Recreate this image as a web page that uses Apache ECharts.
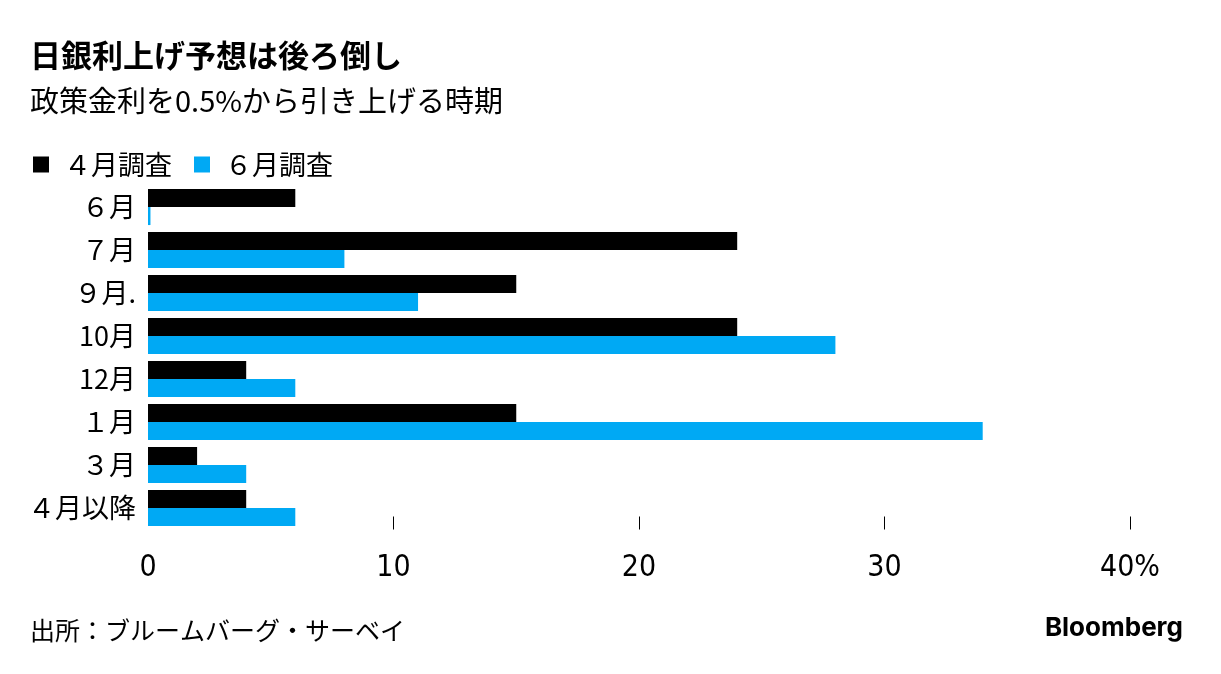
<!DOCTYPE html>
<html><head><meta charset="utf-8">
<script src="https://cdn.jsdelivr.net/npm/echarts@6/dist/echarts.min.js"></script>
<style>html,body{margin:0;padding:0;background:#fff}#c{width:1221px;height:674px}</style>
</head><body><div id="c"></div>
<script>
const categories = ['６月','７月','９月.','10月','12月','１月','３月','４月以降'];
const aprilSurvey = [6, 24, 15, 24, 4, 15, 2, 4];
const juneSurvey = [0.1, 8, 11, 28, 6, 34, 4, 6];
const xTicks = [10, 20, 30, 40];
const xLabels = [0, 10, 20, 30, 40];

const F = '"Noto Sans CJK JP", "Noto Sans", sans-serif';
const N = '"Liberation Sans Narrow", "DejaVu Sans Condensed", sans-serif';
const chart = echarts.init(document.getElementById('c'));
chart.setOption({
  animation: false,
  backgroundColor: '#fff',
  title: [
    {text: '日銀利上げ予想は後ろ倒し', left: 30, top: 40, padding: 0, textStyle: {fontFamily: F, fontSize: 31, fontWeight: 'bold', color: '#000'}},
    {text: '政策金利を0.5%から引き上げる時期', left: 30, top: 86, padding: 0, textStyle: {fontFamily: F, fontSize: 29, fontWeight: 'normal', color: '#000'}},
    {text: '出所：ブルームバーグ・サーベイ', left: 30, top: 618, padding: 0, textStyle: {fontFamily: F, fontSize: 25, fontWeight: 'normal', color: '#000'}},
    {text: 'Bloomberg', right: 38, top: 615, padding: 0, textStyle: {fontFamily: 'Inter, "Noto Sans", sans-serif', fontSize: 26, fontWeight: 'bold', color: '#000', letterSpacing: -0.5}}
  ],
  legend: {
    left: 28, top: 146, itemWidth: 16, itemHeight: 16, itemGap: 22, icon: 'rect',
    textStyle: {fontFamily: F, fontSize: 27, color: '#000', padding: [0, 0, 0, 10]},
    data: ['４月調査', '６月調査']
  },
  grid: {left: 148, right: 91, top: 185.5, height: 344, containLabel: false},
  xAxis: {
    type: 'value', min: 0, max: 40, interval: 10,
    axisLine: {show: false},
    splitLine: {show: false},
    axisTick: {show: true, inside: true, length: 13, lineStyle: {color: '#000', width: 1}, customValues: xTicks},
    axisLabel: {margin: 24, fontFamily: N, fontSize: 30, color: '#000', customValues: xLabels,
      formatter: v => v === 40 ? '40%' : String(v)}
  },
  yAxis: {
    type: 'category', data: categories, inverse: true,
    axisLine: {show: false}, axisTick: {show: false},
    axisLabel: {margin: 12, fontFamily: F, fontSize: 27, color: '#000'}
  },
  series: [
    {name: '４月調査', type: 'bar', data: aprilSurvey, itemStyle: {color: '#000'}, barGap: '0%', barCategoryGap: '16%'},
    {name: '６月調査', type: 'bar', data: juneSurvey, itemStyle: {color: '#00A9F4'}, barGap: '0%', barCategoryGap: '16%'}
  ]
});
</script></body></html>
